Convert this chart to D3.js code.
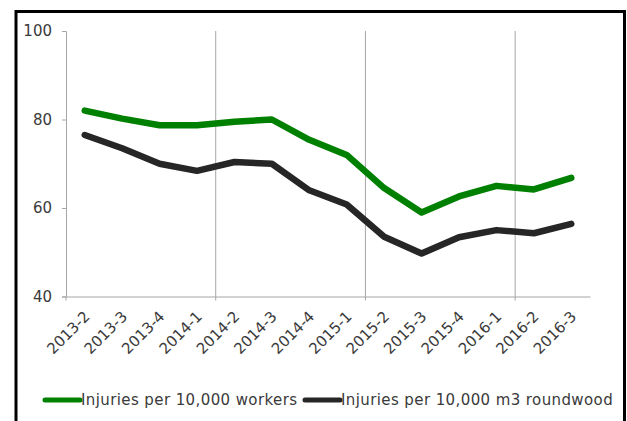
<!DOCTYPE html>
<html><head><meta charset="utf-8">
<script src="https://cdn.jsdelivr.net/npm/d3@7"></script>
<style>body{margin:0;background:#fff;}svg{display:block;}</style>
</head><body>
<script>
const categories = ["2013-2","2013-3","2013-4","2014-1","2014-2","2014-3","2014-4","2015-1","2015-2","2015-3","2015-4","2016-1","2016-2","2016-3"];
const workers = [82, 80.2, 78.7, 78.7, 79.5, 80, 75.4, 72, 64.5, 59, 62.6, 65, 64.2, 66.8];
const roundwood = [76.5, 73.5, 70, 68.4, 70.4, 70, 64, 60.8, 53.5, 49.7, 53.4, 55, 54.3, 56.4];
const yTicks = [40, 60, 80, 100];
const seriesNames = ["Injuries per 10,000 workers", "Injuries per 10,000 m3 roundwood"];
const seriesColors = ["#008000", "#262626"];

(function () {
const W = 627, H = 421;
const svg = d3.select("body").append("svg").attr("width", W).attr("height", H);
svg.append("rect").attr("width", W).attr("height", H).attr("fill", "#fff");

// outer frame
svg.append("rect").attr("x", 16).attr("y", 11.5).attr("width", 608.5).attr("height", 430)
  .attr("fill", "none").attr("stroke", "#000").attr("stroke-width", 3);

const mLeft = 66, mRight = 590, mTop = 31, mBottom = 296.5;
const x = d3.scaleBand().domain(categories).range([mLeft, mRight]).padding(0);
const y = d3.scaleLinear().domain([40, 100]).range([mBottom, mTop]);
const axisColor = "#a6a6a6";
const textColor = "#3a3a3a";
const font = "'DejaVu Sans', Verdana, sans-serif";

// vertical gridlines every 4 categories
const gridIdx = [4, 8, 12];
svg.append("g").selectAll("line").data(gridIdx).join("line")
  .attr("x1", i => x(categories[i])).attr("x2", i => x(categories[i]))
  .attr("y1", mTop).attr("y2", mBottom + 4)
  .attr("stroke", axisColor).attr("stroke-width", 1);

// y axis
const yAxis = d3.axisLeft(y).tickValues(yTicks).tickSize(4).tickPadding(10);
const gy = svg.append("g").attr("transform", `translate(${mLeft},0)`).call(yAxis);
gy.select(".domain").attr("stroke", axisColor);
gy.selectAll(".tick line").attr("stroke", axisColor);
gy.selectAll("text").attr("fill", textColor).style("font-family", font).style("font-size", "15px");

// x axis
const xAxis = d3.axisBottom(x).tickSize(0).tickPadding(0);
const gx = svg.append("g").attr("transform", `translate(0,${mBottom})`).call(xAxis);
gx.select(".domain").attr("stroke", axisColor);
gx.selectAll(".tick text")
  .attr("fill", textColor).style("font-family", font).style("font-size", "15px")
  .attr("text-anchor", "end").attr("dy", "0")
  .attr("transform", "translate(6,21) rotate(-45)");
svg.append("line").attr("x1", mLeft).attr("x2", mLeft).attr("y1", mBottom).attr("y2", mBottom + 4).attr("stroke", axisColor);

// lines
const line = d3.line().x((d, i) => x(categories[i]) + x.bandwidth() / 2).y(d => y(d));
[workers, roundwood].forEach((s, k) => {
  svg.append("path").datum(s).attr("d", line)
    .attr("fill", "none").attr("stroke", seriesColors[k]).attr("stroke-width", 6.5)
    .attr("stroke-linejoin", "round").attr("stroke-linecap", "round");
});

// legend
const legX = [45, 305];
seriesNames.forEach((n, k) => {
  svg.append("line").attr("x1", legX[k]).attr("x2", legX[k] + 35).attr("y1", 400).attr("y2", 400)
    .attr("stroke", seriesColors[k]).attr("stroke-width", 5).attr("stroke-linecap", "round");
  svg.append("text").attr("x", legX[k] + 36).attr("y", 405).text(n)
    .attr("fill", textColor).style("font-family", font).style("font-size", "15px").style("letter-spacing", "0.4px");
});
})();
</script>
</body></html>
